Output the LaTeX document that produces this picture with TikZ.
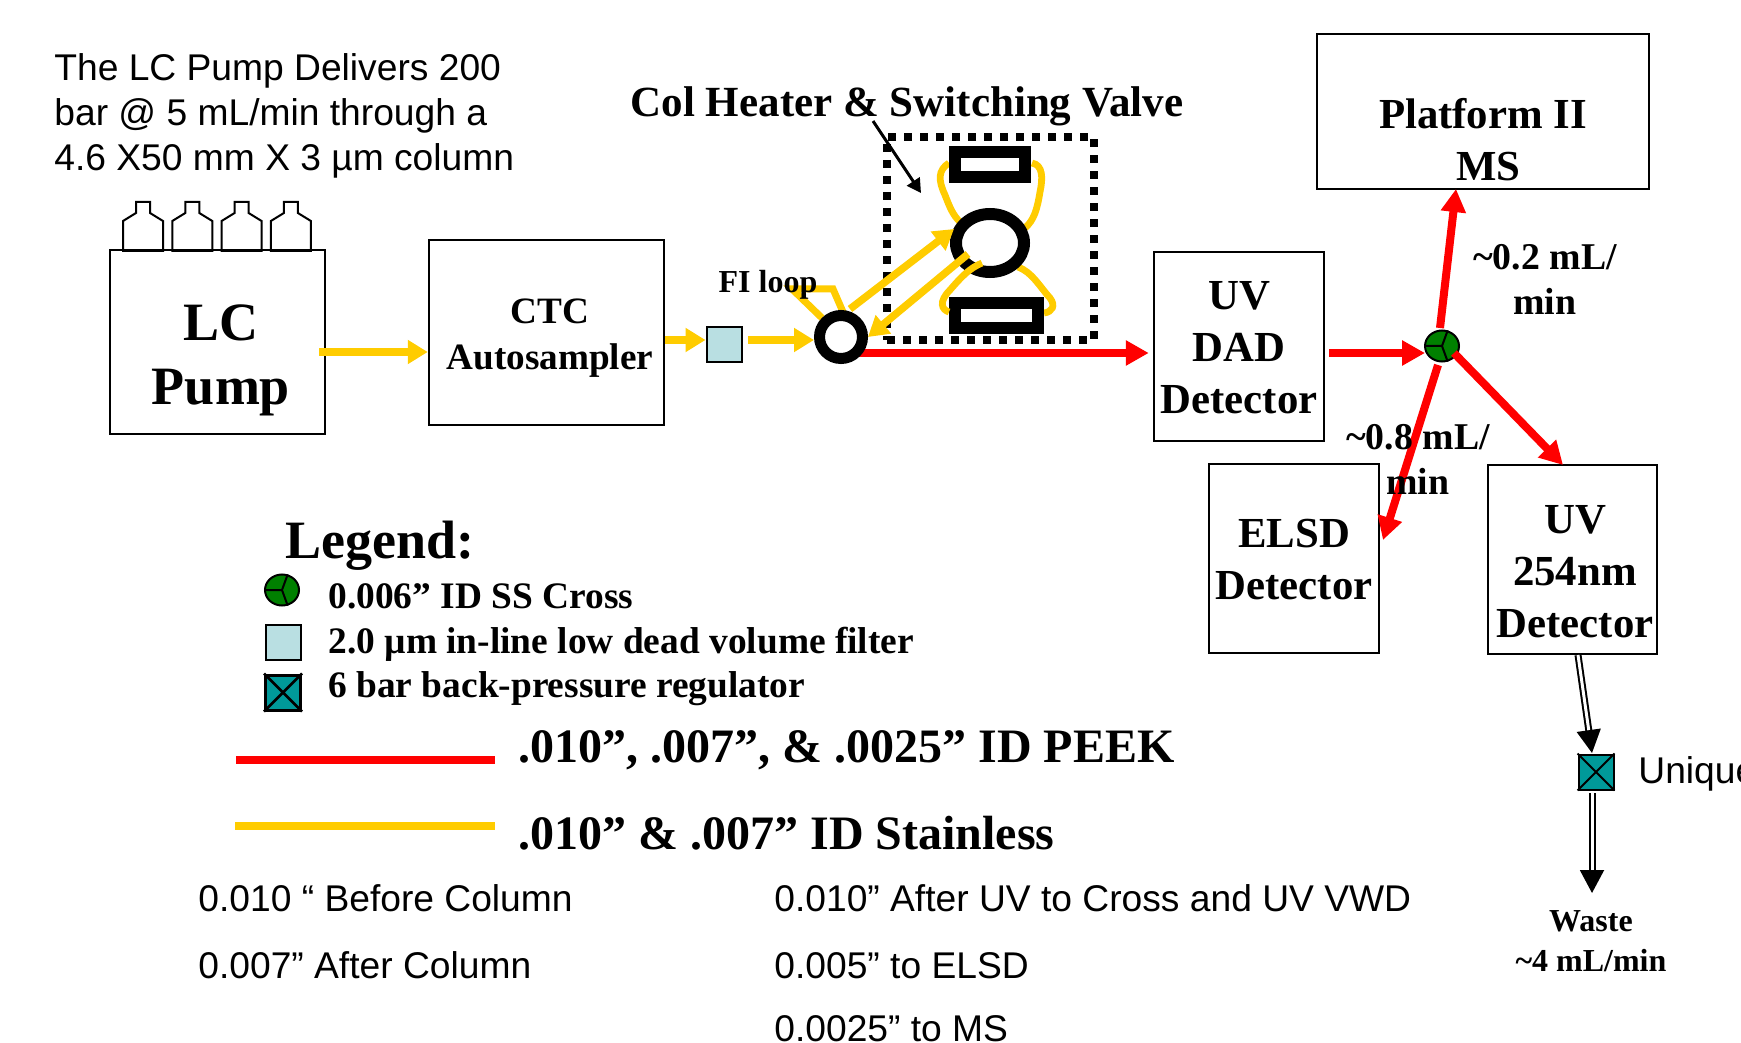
\documentclass[tikz,border=0pt]{standalone}
\usepackage{fontspec}
\setmainfont{Liberation Serif}
\newfontfamily\arialfont{Liberation Sans}
\usetikzlibrary{arrows.meta,shapes.geometric}
\definecolor{tube_yellow}{HTML}{FFCC00}
\definecolor{tube_red}{HTML}{FF0000}
\definecolor{dark_green}{HTML}{008000}
\definecolor{filter_blue}{HTML}{B9DFE2}
\definecolor{teal_reg}{HTML}{009999}
\tikzset{
  box/.style={draw,line width=1.25pt,inner sep=0pt},
  boxtext/.style={font=\bfseries\fontsize{21.4}{26}\selectfont,align=center,inner sep=0pt},
  flowtext/.style={font=\bfseries\fontsize{18.9}{22.5}\selectfont,align=center,inner sep=0pt},
  legendtext/.style={font=\bfseries\fontsize{18.7}{22}\selectfont,anchor=base west,inner sep=0pt},
  tubetext/.style={font=\bfseries\fontsize{24}{30}\selectfont,anchor=base west,inner sep=0pt},
  plaintext/.style={font=\arialfont\fontsize{18.6}{22.5}\selectfont,anchor=base west,inner sep=0pt},
  yellow_tube/.style={tube_yellow,line width=3.75pt,-{Triangle[length=10pt,width=11.5pt]}},
  yellow_line/.style={tube_yellow,line width=3.4pt},
  red_tube/.style={tube_red,line width=4pt,-{Triangle[length=11.5pt,width=12pt]}},
  ss_cross/.style={ellipse,draw,line width=1pt,fill=dark_green,minimum width=17pt,minimum height=15.5pt,inner sep=0pt},
  filter/.style={rectangle,draw,line width=1pt,fill=filter_blue,minimum size=17.5pt,inner sep=0pt},
  regulator/.style={rectangle,draw,line width=1pt,fill=teal_reg,minimum size=17.5pt,inner sep=0pt},
  holder/.style={rectangle,draw,line width=6pt,inner sep=0pt},
  double_tube/.style={double,line width=1pt,double distance=1.5pt,-{Triangle[length=11.5pt,width=12pt]}},
}
\begin{document}
\begin{tikzpicture}[x=0.5pt,y=-0.5pt]

    \useasboundingbox (0,0) rectangle (1741,1043);

    % Boxes
    \node[box,minimum width=107.5pt,minimum height=92pt] (pump) at (217.5,342) {};
    \node[box,minimum width=117.5pt,minimum height=92.5pt] (ctc) at (546.5,332.5) {};
    \node[box,minimum width=166pt,minimum height=77.5pt] (platform) at (1483,111.5) {};
    \node[box,minimum width=85pt,minimum height=94.5pt] (dad) at (1239,346.5) {};
    \node[box,minimum width=85pt,minimum height=94.5pt] (elsd) at (1294,558.5) {};
    \node[box,minimum width=84.5pt,minimum height=94.5pt] (uv) at (1572.5,559.5) {};

    % Vials on the pump
    \foreach \i in {0,1,2,3} {
        \draw[line width=1pt,xshift=\i*24.65pt] (123,251) -- (123,221) -- (136,213) -- (136,202) -- (150,202) -- (150,213) -- (163,221) -- (163,251) -- cycle;
    }

    % Texts of the boxes
    \node[font=\bfseries\fontsize{27}{32}\selectfont,align=center,inner sep=0pt] (pump_text) at (221,360.5) {LC\\Pump};
    \node[font=\bfseries\fontsize{18.6}{23}\selectfont,align=center,inner sep=0pt] (ctc_text) at (550,338.5) {CTC\\Autosampler};
    \node[boxtext] (platform_text) at (1483,140) {Platform II\\\hspace*{5.5pt}MS};
    \node[boxtext] (dad_text) at (1239,348) {UV\\DAD\\Detector};
    \node[boxtext] (elsd_text) at (1294,560) {ELSD\\Detector};
    \node[boxtext] (uv_text) at (1575,572) {UV\\254nm\\Detector};

    % Heater
    \node[draw,line width=4pt,dash pattern=on 4pt off 4pt,minimum width=103.5pt,minimum height=101.5pt,inner sep=0pt] (heater) at (990.5,238.5) {};
    \node[flowtext,font=\bfseries\fontsize{21.5}{24}\selectfont] (heater_text) at (907,106) {Col Heater \& Switching Valve};
    \coordinate (heater_from) at (873,121);
    \coordinate (heater_to) at (921,193);
    \draw[line width=1.5pt,-{Triangle[length=7pt,width=7.5pt]}] (heater_from) -- (heater_to);

    % Column loops
    \draw[yellow_line] (949,163) .. controls (938,170) and (938,180) .. (945,195) .. controls (950,208) and (953,215) .. (960,222);
    \draw[yellow_line] (1032,163) .. controls (1043,165) and (1043,178) .. (1040,192) .. controls (1037,210) and (1034,220) .. (1025,228);
    \draw[yellow_line] (1018,267) .. controls (1032,272) and (1040,287) .. (1050,298) .. controls (1056,306) and (1052,312) .. (1044,313);
    \node[holder,minimum width=35pt,minimum height=12.5pt] (column_top) at (990,164.5) {};
    \node[holder,minimum width=41.5pt,minimum height=12.5pt] (column_bottom) at (996.5,315.5) {};
    \node[ellipse,draw,line width=6pt,minimum width=34pt,minimum height=29pt,inner sep=0pt] (switch_valve) at (990,243) {};

    % Injection valve and filter
    \coordinate (loop_a) at (833,289);
    \coordinate (loop_b) at (792,289);
    \coordinate (loop_c) at (822,318);
    \coordinate (loop_d) at (843,312);
    \draw[yellow_line,line width=3.5pt,line join=miter] (loop_d) -- (loop_a) -- (loop_b) -- (loop_c);

    \draw[yellow_line] (982,263) .. controls (970,268) and (962,276) .. (950,290) .. controls (938,302) and (942,310) .. (949,312);
    \coordinate (pump_out) at (319,352);
    \coordinate (ctc_out) at (665,340);
    \coordinate (filter_out) at (748,340);
    \coordinate (valve_in) at (814,340);
    \coordinate (valve_out) at (850,309);
    \coordinate (switch_in) at (954,229);
    \coordinate (switch_out) at (968,254);
    \coordinate (valve_back) at (868,337);
    \coordinate (red_out) at (858,353);

    \node[filter] (filter_main) at (724,345) {};

    \draw[yellow_tube] (pump_out) -- (ctc.west |- pump_out);
    \draw[yellow_tube] (ctc_out) -- (filter_main.west |- ctc_out);
    \draw[yellow_tube] (filter_out) -- (valve_in);
    \draw[yellow_tube] (valve_out) -- (switch_in);
    \draw[yellow_tube] (switch_out) -- (valve_back);
    \draw[red_tube] (red_out) -- ([xshift=-2pt]dad.west |- red_out);
    \node[circle,draw,line width=5.5pt,minimum size=21.5pt,inner sep=0pt] (fi_valve) at (841,337) {};
    \node[flowtext,font=\bfseries\fontsize{16}{20}\selectfont] (fi_text) at (768,285) {FI loop};

    % Splitter
    \node[ss_cross] (cross) at (1442,346) {};
    \draw[line width=1pt] (cross.center) -- (cross.180) (cross.center) -- (cross.70) (cross.center) -- (cross.-70);
    \coordinate (dad_out) at (1329,353);
    \coordinate (cross_in) at (1425,353);
    \coordinate (cross_up) at (1440,328);
    \coordinate (platform_in) at (1456,189);
    \coordinate (cross_down) at (1438,365);
    \coordinate (elsd_in) at (1383,540);
    \coordinate (cross_right) at (1454,353);
    \coordinate (uv_in) at (1563,465);
    \draw[red_tube] (dad_out) -- (cross_in);
    \draw[red_tube] (cross_up) -- (platform_in);
    \draw[red_tube] (cross_down) -- (elsd_in);
    \draw[red_tube] (cross_right) -- (uv_in);
    \node[flowtext] (high_flow) at (1545,279) {\textasciitilde0.2 mL/\\min};
    \node[flowtext] (low_flow) at (1418,459) {\textasciitilde0.8 mL/\\min};

    % Waste line
    \node[regulator] (reg_main) at (1596,772) {};
    \draw[line width=1pt] (reg_main.north west) -- (reg_main.south east) (reg_main.north east) -- (reg_main.south west);
    \coordinate (uv_out) at (1578,655);
    \coordinate (reg_in) at (1592,753);
    \coordinate (reg_out) at (1592,793);
    \coordinate (waste_in) at (1592,893);
    \draw[double_tube] (uv_out) -- (reg_in);
    \draw[double_tube] (reg_out) -- (waste_in);
    \node[flowtext,font=\bfseries\fontsize{16}{20}\selectfont] (waste_text) at (1591,941) {Waste\\\textasciitilde4 mL/min};
    \node[plaintext] (unique_text) at (1638,783) {Unique};

    % Legend
    \node[font=\bfseries\fontsize{27}{30}\selectfont,anchor=base west,inner sep=0pt] (legend_title) at (285,558) {Legend:};
    \node[ss_cross] (cross_key) at (282,590) {};
    \draw[line width=1pt] (cross_key.center) -- (cross_key.180) (cross_key.center) -- (cross_key.70) (cross_key.center) -- (cross_key.-70);
    \node[filter] (filter_key) at (283,642.5) {};
    \node[regulator,line width=1.5pt] (reg_key) at (283,692.5) {};
    \draw[line width=1.25pt] (reg_key.north west) -- (reg_key.south east) (reg_key.north east) -- (reg_key.south west);
    \node[legendtext] (cross_label) at (328,608) {0.006” ID SS Cross};
    \node[legendtext] (filter_label) at (328,653) {2.0 µm in-line low dead volume filter};
    \node[legendtext] (reg_label) at (328,697.5) {6 bar back-pressure regulator};

    \coordinate (red_key_a) at (236,760);
    \coordinate (red_key_b) at (495,760);
    \coordinate (yellow_key_a) at (235,826);
    \coordinate (yellow_key_b) at (495,826);
    \draw[tube_red,line width=4pt] (red_key_a) -- (red_key_b);
    \draw[tube_yellow,line width=4pt] (yellow_key_a) -- (yellow_key_b);
    \node[tubetext] (red_label) at (518,762) {.010”, .007”, \& .0025” ID PEEK};
    \node[tubetext] (yellow_label) at (518,849) {.010” \& .007” ID Stainless};

    % Notes
    \node[plaintext,align=left,anchor=north west] (pump_note) at (54,53) {The LC Pump Delivers 200\\bar @ 5 mL/min through a\\4.6 X50 mm X 3 µm column};
    \node[plaintext] (note_a) at (198,911) {0.010 “ Before Column};
    \node[plaintext] (note_b) at (198,978) {0.007” After Column};
    \node[plaintext] (note_c) at (774,911) {0.010” After UV to Cross and UV VWD};
    \node[plaintext] (note_d) at (774,978) {0.005” to ELSD};
    \node[plaintext] (note_e) at (774,1041) {0.0025” to MS};
\end{tikzpicture}
\end{document}
